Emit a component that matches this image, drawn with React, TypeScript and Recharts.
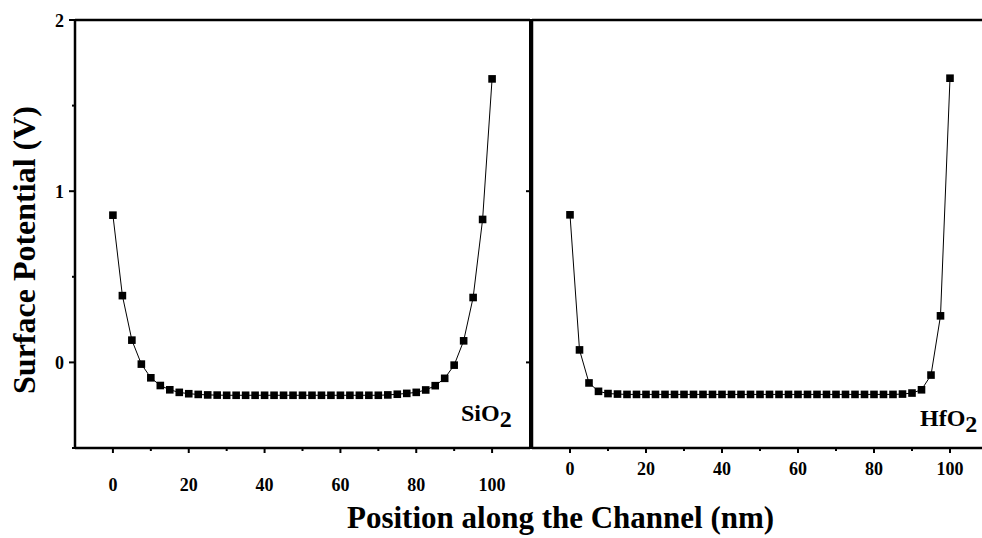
import { LineChart, Line, XAxis, YAxis, ReferenceLine } from "recharts";

const positions = [
  0, 2.5, 5, 7.5, 10, 12.5, 15, 17.5, 20, 22.5, 25, 27.5, 30, 32.5, 35, 37.5,
  40, 42.5, 45, 47.5, 50, 52.5, 55, 57.5, 60, 62.5, 65, 67.5, 70, 72.5, 75,
  77.5, 80, 82.5, 85, 87.5, 90, 92.5, 95, 97.5, 100,
];

const sio2Potential = [
  0.86, 0.39, 0.13, -0.01, -0.09, -0.135, -0.16, -0.175, -0.183, -0.187, -0.19,
  -0.191, -0.192, -0.192, -0.192, -0.192, -0.192, -0.192, -0.192, -0.192,
  -0.192, -0.192, -0.192, -0.192, -0.192, -0.192, -0.192, -0.192, -0.192,
  -0.19, -0.186, -0.181, -0.175, -0.161, -0.136, -0.093, -0.016, 0.126, 0.379,
  0.835, 1.656,
];

const hfo2Potential = [
  0.862, 0.073, -0.12, -0.169, -0.182, -0.185, -0.187, -0.187, -0.187, -0.187,
  -0.187, -0.187, -0.187, -0.187, -0.187, -0.187, -0.187, -0.187, -0.187,
  -0.187, -0.187, -0.187, -0.187, -0.187, -0.187, -0.187, -0.187, -0.187,
  -0.187, -0.187, -0.187, -0.187, -0.187, -0.187, -0.187, -0.185, -0.179,
  -0.16, -0.074, 0.272, 1.66,
];

const xTicks = [0, 10, 20, 30, 40, 50, 60, 70, 80, 90, 100];
const xLabels = [0, 20, 40, 60, 80, 100];
const yTicks = [-0.5, 0, 0.5, 1, 1.5, 2];
const yLabels = [0, 1, 2];

const FONT = "'Liberation Serif', 'Times New Roman', serif";

const sio2Data = positions.map((x, i) => ({ x, v: sio2Potential[i] }));
const hfo2Data = positions.map((x, i) => ({ x, v: hfo2Potential[i] }));

const SquareDot = (props: any) => {
  const { cx, cy, key } = props;
  if (cx == null || cy == null) return <g key={key} />;
  return <rect key={key} x={cx - 3.8} y={cy - 3.8} width={7.6} height={7.6} fill="#000" />;
};

function makeXTick(labelOffset: number) {
  return (props: any) => {
    const { x, y, payload } = props;
    const major = xLabels.includes(payload.value);
    return (
      <g>
        <line x1={x} x2={x} y1={y} y2={y + (major ? 5 : 3)} stroke="#000" strokeWidth={2} />
        {major && (
          <text x={x} y={y + labelOffset} textAnchor="middle" fontFamily={FONT} fontWeight="bold" fontSize={18} fill="#000">
            {payload.value}
          </text>
        )}
      </g>
    );
  };
}

function makeYTick(showLabels: boolean) {
  return (props: any) => {
    const { x, y, payload } = props;
    const major = yLabels.includes(payload.value);
    return (
      <g>
        <line x1={x} x2={x - (major ? 6 : 3)} y1={y} y2={y} stroke="#000" strokeWidth={2} />
        {showLabels && major && (
          <text x={x - 11} y={y + 6.5} textAnchor="end" fontFamily={FONT} fontWeight="bold" fontSize={18} fill="#000">
            {payload.value}
          </text>
        )}
      </g>
    );
  };
}

interface PanelProps {
  data: { x: number; v: number }[];
  left: number;
  yAxisWidth: number;
  marginRight: number;
  showYLabels: boolean;
  xLabelOffset: number;
  rightBorder: boolean;
}

function Panel({ data, left, yAxisWidth, marginRight, showYLabels, xLabelOffset, rightBorder }: PanelProps) {
  return (
    <div style={{ position: "absolute", left, top: 0 }}>
      <LineChart width={540} height={538} data={data} margin={{ top: 20, right: marginRight, bottom: 50, left: 0 }}>
        <XAxis
          dataKey="x"
          type="number"
          domain={[-10, 110]}
          ticks={xTicks}
          interval={0}
          height={40}
          tickSize={0}
          tickMargin={0}
          tickLine={false}
          axisLine={{ stroke: "#000", strokeWidth: 2.5 }}
          tick={makeXTick(xLabelOffset)}
        />
        <YAxis
          type="number"
          domain={[-0.5, 2]}
          ticks={yTicks}
          interval={0}
          width={yAxisWidth}
          tickSize={0}
          tickMargin={0}
          tickLine={false}
          axisLine={{ stroke: "#000", strokeWidth: 2.5 }}
          tick={makeYTick(showYLabels)}
        />
        <ReferenceLine y={2} stroke="#000" strokeWidth={2.5} />
        {rightBorder && <ReferenceLine x={110} stroke="#000" strokeWidth={2} />}
        <Line
          dataKey="v"
          type="linear"
          stroke="#000"
          strokeWidth={1}
          dot={SquareDot}
          activeDot={false}
          isAnimationActive={false}
        />
      </LineChart>
    </div>
  );
}

export default function App() {
  return (
    <div style={{ position: "absolute", left: 0, top: 0, width: 982, height: 538, overflow: "hidden", background: "#fff" }}>
      <Panel data={sio2Data} left={0} yAxisWidth={75} marginRight={10} showYLabels xLabelOffset={43} rightBorder />
      <Panel data={hfo2Data} left={460} yAxisWidth={72} marginRight={12} showYLabels={false} xLabelOffset={27} rightBorder={false} />
      <svg width={982} height={538} style={{ position: "absolute", left: 0, top: 0, pointerEvents: "none" }}>
        <text x={35} y={250} transform="rotate(-90 35 250)" textAnchor="middle" fontFamily={FONT} fontWeight="bold" fontSize={32} fill="#000">
          Surface Potential (V)
        </text>
        <text x={347} y={528} fontFamily={FONT} fontWeight="bold" fontSize={31} fill="#000">
          Position along the Channel (nm)
        </text>
        <text x={461} y={421} fontFamily={FONT} fontWeight="bold" fontSize={24} fill="#000">
          SiO<tspan dy={6}>2</tspan>
        </text>
        <text x={920} y={426} fontFamily={FONT} fontWeight="bold" fontSize={24} fill="#000">
          HfO<tspan dy={6}>2</tspan>
        </text>
      </svg>
    </div>
  );
}
